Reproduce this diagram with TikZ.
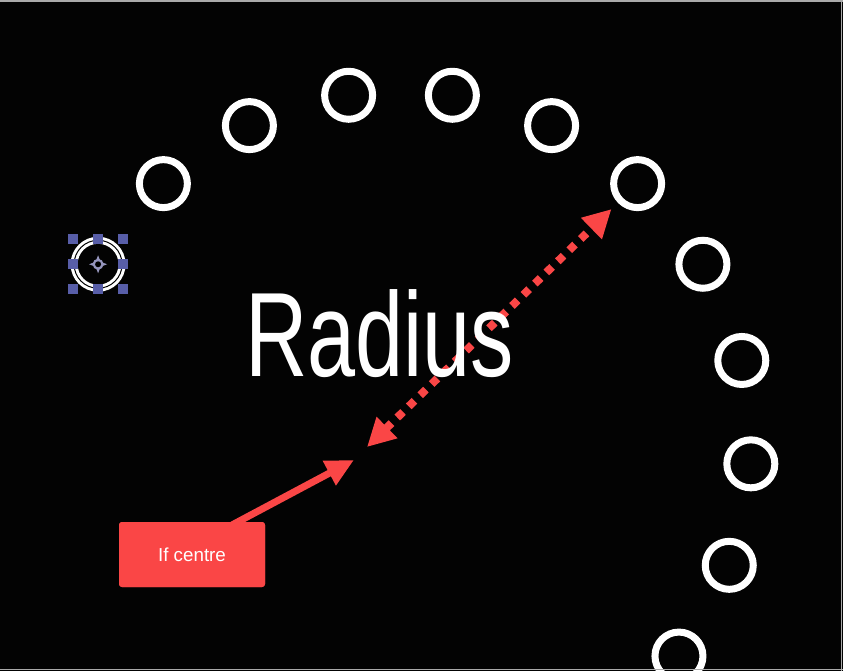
\documentclass[tikz,border=0pt]{standalone}
\usepackage{fontspec}
\setmainfont{Liberation Sans}
\usetikzlibrary{arrows.meta,calc}
\definecolor{redA}{RGB}{250,70,70}
\definecolor{handle}{RGB}{88,94,168}
\definecolor{iconc}{RGB}{150,150,190}
\definecolor{framec}{RGB}{170,170,170}
\definecolor{bgc}{RGB}{3,3,3}
\begin{document}
\begin{tikzpicture}[x=1pt,y=-1pt,
  ring/.style={circle,draw=white,line width=7pt,minimum size=48pt,inner sep=0pt},
  handlebox/.style={fill=handle},
  dotarrow/.style={redA,line width=8pt,dash pattern=on 8pt off 8pt,
    {Triangle[length=28pt,width=28pt]}-{Triangle[length=28pt,width=28pt]}},
  solidarrow/.style={redA,line width=7pt,-{Triangle[length=28pt,width=26pt]}},
  labelbox/.style={fill=redA,rounded corners=3pt,minimum width=146pt,minimum height=65pt,
    inner sep=0pt,text=white,font=\fontsize{18.8}{22}\selectfont},
  handtext/.style={anchor=base west,text=white,xscale=0.72,inner sep=0pt,
    font=\fontsize{120}{130}\selectfont},
  framel/.style={framec,line width=1.5pt}]
\fill[bgc] (0,0) rectangle (843,671);
\useasboundingbox (0,0) rectangle (843,671);
% rings along the arc
\foreach \i in {1,...,12}{
  \pgfmathsetmacro\ang{149.5-17*(\i-1)}
  \node[ring] (c\i) at ({400.5+351*cos(\ang)},{442.4-351*sin(\ang)}) {};
}
% selection decoration on first ring
\draw[black,line width=1pt] (c1) circle[radius=24];
\foreach \dx/\dy in {-25/-25,0/-25,25/-25,-25/0,25/0,-25/25,0/25,25/25}
  \fill[handlebox] ($(c1)+(\dx-5,\dy-5)$) rectangle ($(c1)+(\dx+5,\dy+5)$);
\fill[iconc] ($(c1)+(0,-9)$) -- ($(c1)+(2.5,-2.5)$) -- ($(c1)+(9,0)$) -- ($(c1)+(2.5,2.5)$)
  -- ($(c1)+(0,9)$) -- ($(c1)+(-2.5,2.5)$) -- ($(c1)+(-9,0)$) -- ($(c1)+(-2.5,-2.5)$) -- cycle;
\fill[iconc] (c1) circle[radius=5.5];
\fill[black] (c1) circle[radius=3];
% radius arrow
\coordinate (ctr) at (367,447);
\draw[dotarrow,shorten >=9pt] (ctr) -- (c7);
% handwritten label
\node[handtext] (lbl) at (245,376) {Radius};
% callout
\node[labelbox] (box) at (192,554.5) {If centre};
\coordinate (ptr) at (354,460);
\coordinate (tail) at ([xshift=46pt]box.north);
\draw[solidarrow] ($(ptr)!1.05!(tail)$) -- (ptr);
\node[labelbox] at (box) {If centre};
% window frame lines
\draw[framel] (0,1) -- (843,1);
\draw[framel] (841.5,0) -- (841.5,671);
\draw[framel] (0,669.3) -- (843,669.3);
\end{tikzpicture}
\end{document}
